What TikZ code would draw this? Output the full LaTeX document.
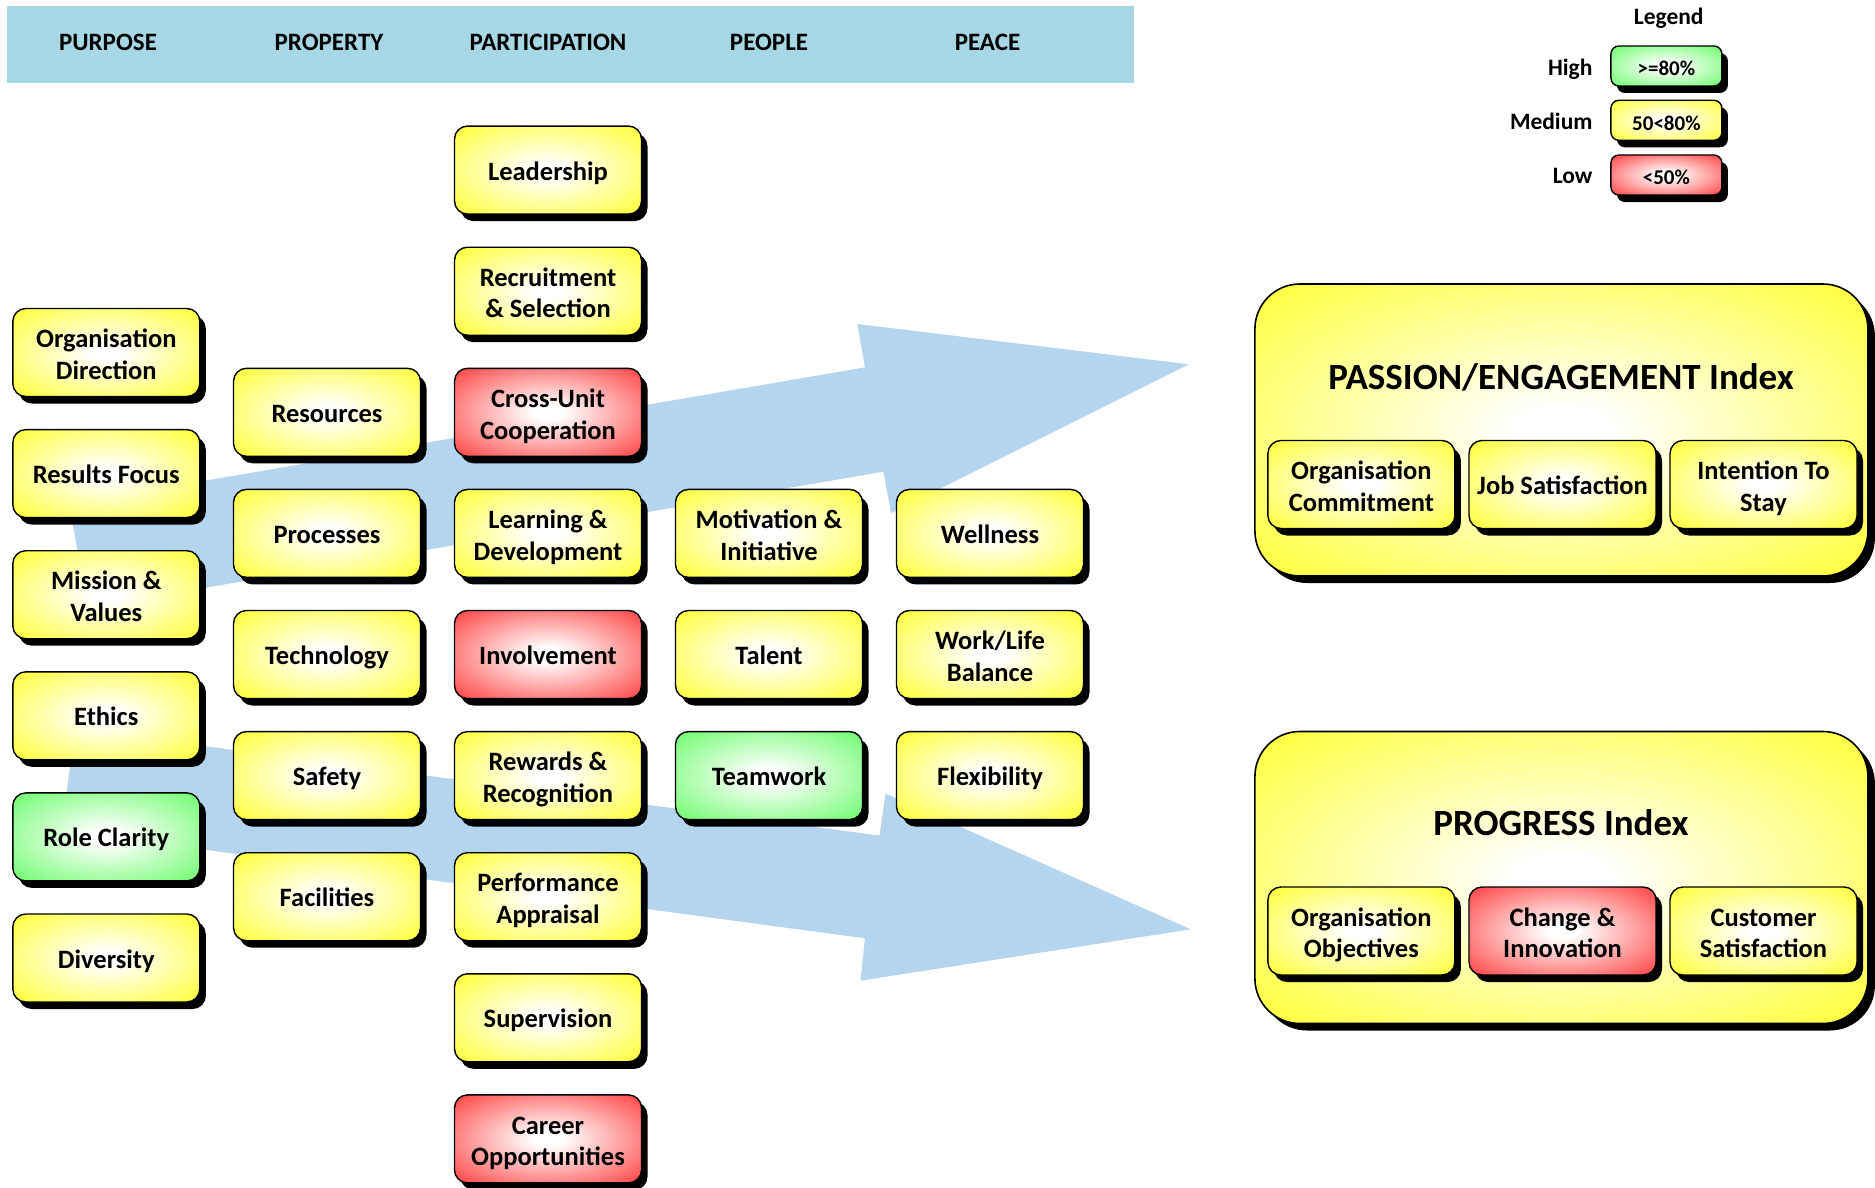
\documentclass[tikz,border=0pt]{standalone}
\usepackage{fontspec}
\setmainfont{Carlito}
\usetikzlibrary{shadows}

\definecolor{hdrblue}{RGB}{167,215,229}
\definecolor{flowblue}{RGB}{181,213,239}
\definecolor{ylw}{RGB}{255,255,70}
\definecolor{rd}{RGB}{255,80,80}
\definecolor{grn}{RGB}{120,252,120}

% white-centred glows for the score tiles
\pgfdeclareradialshading{glowyellow}{\pgfpoint{0bp}{0bp}}{color(0bp)=(white); color(4bp)=(white); color(33bp)=(ylw); color(100bp)=(ylw)}
\pgfdeclareradialshading{glowred}{\pgfpoint{0bp}{0bp}}{color(0bp)=(white); color(4bp)=(white); color(33bp)=(rd); color(100bp)=(rd)}
\pgfdeclareradialshading{glowgreen}{\pgfpoint{0bp}{0bp}}{color(0bp)=(white); color(4bp)=(white); color(33bp)=(grn); color(100bp)=(grn)}

\tikzset{
  tile/.style={draw=black, line width=1.4pt, rounded corners=13pt,
    minimum width=187pt, minimum height=88pt, inner sep=2pt, align=center,
    font=\fontsize{26.5}{31.5}\selectfont\bfseries,
    execute at begin node={\rule{0pt}{26pt}},
    execute at end node={\rule[-6pt]{0pt}{6pt}},
    drop shadow={shadow xshift=6pt, shadow yshift=-7pt, fill=black, opacity=1}},
  % two-line labels sit a little lower
  twoline/.style={execute at begin node={\rule{0pt}{59.5pt}}},
  hi/.style={tile, shading=glowgreen},
  mid/.style={tile, shading=glowyellow},
  lo/.style={tile, shading=glowred},
  keytile/.style={tile, minimum width=111pt, minimum height=40pt, rounded corners=8pt,
    font=\fontsize{21}{25}\selectfont\bfseries,
    execute at begin node={\rule{0pt}{20pt}},
    execute at end node={\rule[-5pt]{0pt}{5pt}}},
  indexbox/.style={draw=black, line width=1.6pt, rounded corners=45pt,
    minimum width=613pt, minimum height=292pt, shading=glowyellow,
    drop shadow={shadow xshift=7pt, shadow yshift=-7pt, fill=black, opacity=1}},
  indextitle/.style={font=\fontsize{37}{44}\selectfont\bfseries},
  colhead/.style={font=\fontsize{25}{30}\selectfont\bfseries},
  keylabel/.style={anchor=base east, font=\fontsize{23.5}{28}\selectfont\bfseries},
}

\begin{document}
\begin{tikzpicture}[x=1pt, y=-1pt]
\useasboundingbox (0,0) rectangle (1875,1188);

% two broad flow arrows behind the tiles
\fill[flowblue] (69.5,504) -- (865,367.3) -- (857.3,324) -- (1189,364.3)
  -- (891,513.3) -- (883.5,471.7) -- (87,608) -- cycle;
\fill[flowblue] (75,729) -- (879.5,835.5) -- (885.5,793.5) -- (1190.7,929.3)
  -- (860.5,980.7) -- (865,938.3) -- (61.6,830.5) -- cycle;

% column header band
\fill[hdrblue] (7,6) rectangle (1134,83);
\node[colhead] (hpurpose) at (108,42.5) {PURPOSE};
\node[colhead] (hproperty) at (329,42.5) {PROPERTY};
\node[colhead] (hpartic) at (548,42.5) {PARTICIPATION};
\node[colhead] (hpeople) at (769,42.5) {PEOPLE};
\node[colhead] (hpeace) at (987.5,42.5) {PEACE};

% PURPOSE
\node[mid,twoline] (orgdir)    at (106.3,352.5) {Organisation\\Direction};
\node[mid]         (results)   at (106.3,473.6) {Results Focus};
\node[mid,twoline] (mission)   at (106.3,594.7) {Mission \&\\Values};
\node[mid]         (ethics)    at (106.3,715.8) {Ethics};
\node[hi]          (role)      at (106.3,836.9) {Role Clarity};
\node[mid]         (diversity) at (106.3,958.0) {Diversity};

% PROPERTY
\node[mid] (resources)  at (327,412.3) {Resources};
\node[mid] (processes)  at (327,533.4) {Processes};
\node[mid] (technology) at (327,654.5) {Technology};
\node[mid] (safety)     at (327,775.6) {Safety};
\node[mid] (facilities) at (327,896.7) {Facilities};

% PARTICIPATION
\node[mid]         (leadership)  at (548,170.1)  {Leadership};
\node[mid,twoline] (recruit)     at (548,291.2)  {Recruitment\\\& Selection};
\node[lo,twoline]  (crossunit)   at (548,412.3)  {Cross-Unit\\Cooperation};
\node[mid,twoline] (learning)    at (548,533.4)  {Learning \&\\Development};
\node[lo]          (involvement) at (548,654.5)  {Involvement};
\node[mid,twoline] (rewards)     at (548,775.6)  {Rewards \&\\Recognition};
\node[mid,twoline] (perf)        at (548,896.7)  {Performance\\Appraisal};
\node[mid]         (supervision) at (548,1017.8) {Supervision};
\node[lo,twoline]  (career)      at (548,1138.9) {Career\\Opportunities};

% PEOPLE
\node[mid,twoline] (motivation) at (769,533.4) {Motivation \&\\Initiative};
\node[mid]         (talent)     at (769,654.5) {Talent};
\node[hi]          (teamwork)   at (769,775.6) {Teamwork};

% PEACE
\node[mid]         (wellness)    at (990,533.4) {Wellness};
\node[mid,twoline] (worklife)    at (990,654.5) {Work/Life\\Balance};
\node[mid]         (flexibility) at (990,775.6) {Flexibility};

% legend
\node[font=\fontsize{23.5}{28}\selectfont\bfseries, anchor=base] (legendhead) at (1668.7,24.5) {Legend};
\node[keylabel] (khigh) at (1596,76) {High};
\node[keylabel] (kmed)  at (1596,130) {Medium};
\node[keylabel] (klow)  at (1596,183.7) {Low};
\node[keytile, shading=glowgreen]  (khighbox) at (1666.4,66)    {>=80\%};
\node[keytile, shading=glowyellow] (kmedbox)  at (1666.4,120.3) {50<80\%};
\node[keytile, shading=glowred]    (klowbox)  at (1666.4,175)   {<50\%};

% passion / engagement index
\node[indexbox] (passion) at (1561.4,430) {};
\node[indextitle] (passiontitle) at (1561,377) {PASSION/ENGAGEMENT Index};
\node[mid,twoline] (orgcommit) at (1361.4,484.5) {Organisation\\Commitment};
\node[mid]         (jobsat)    at (1562.5,484.5) {Job Satisfaction};
\node[mid,twoline] (intention) at (1763.5,484.5) {Intention To\\Stay};

% progress index
\node[indexbox] (progress) at (1561.4,877.5) {};
\node[indextitle] (progresstitle) at (1561,823) {PROGRESS Index};
\node[mid,twoline] (orgobj)  at (1361.4,931) {Organisation\\Objectives};
\node[lo,twoline]  (change)  at (1562.5,931) {Change \&\\Innovation};
\node[mid,twoline] (custsat) at (1763.5,931) {Customer\\Satisfaction};
\end{tikzpicture}
\end{document}
